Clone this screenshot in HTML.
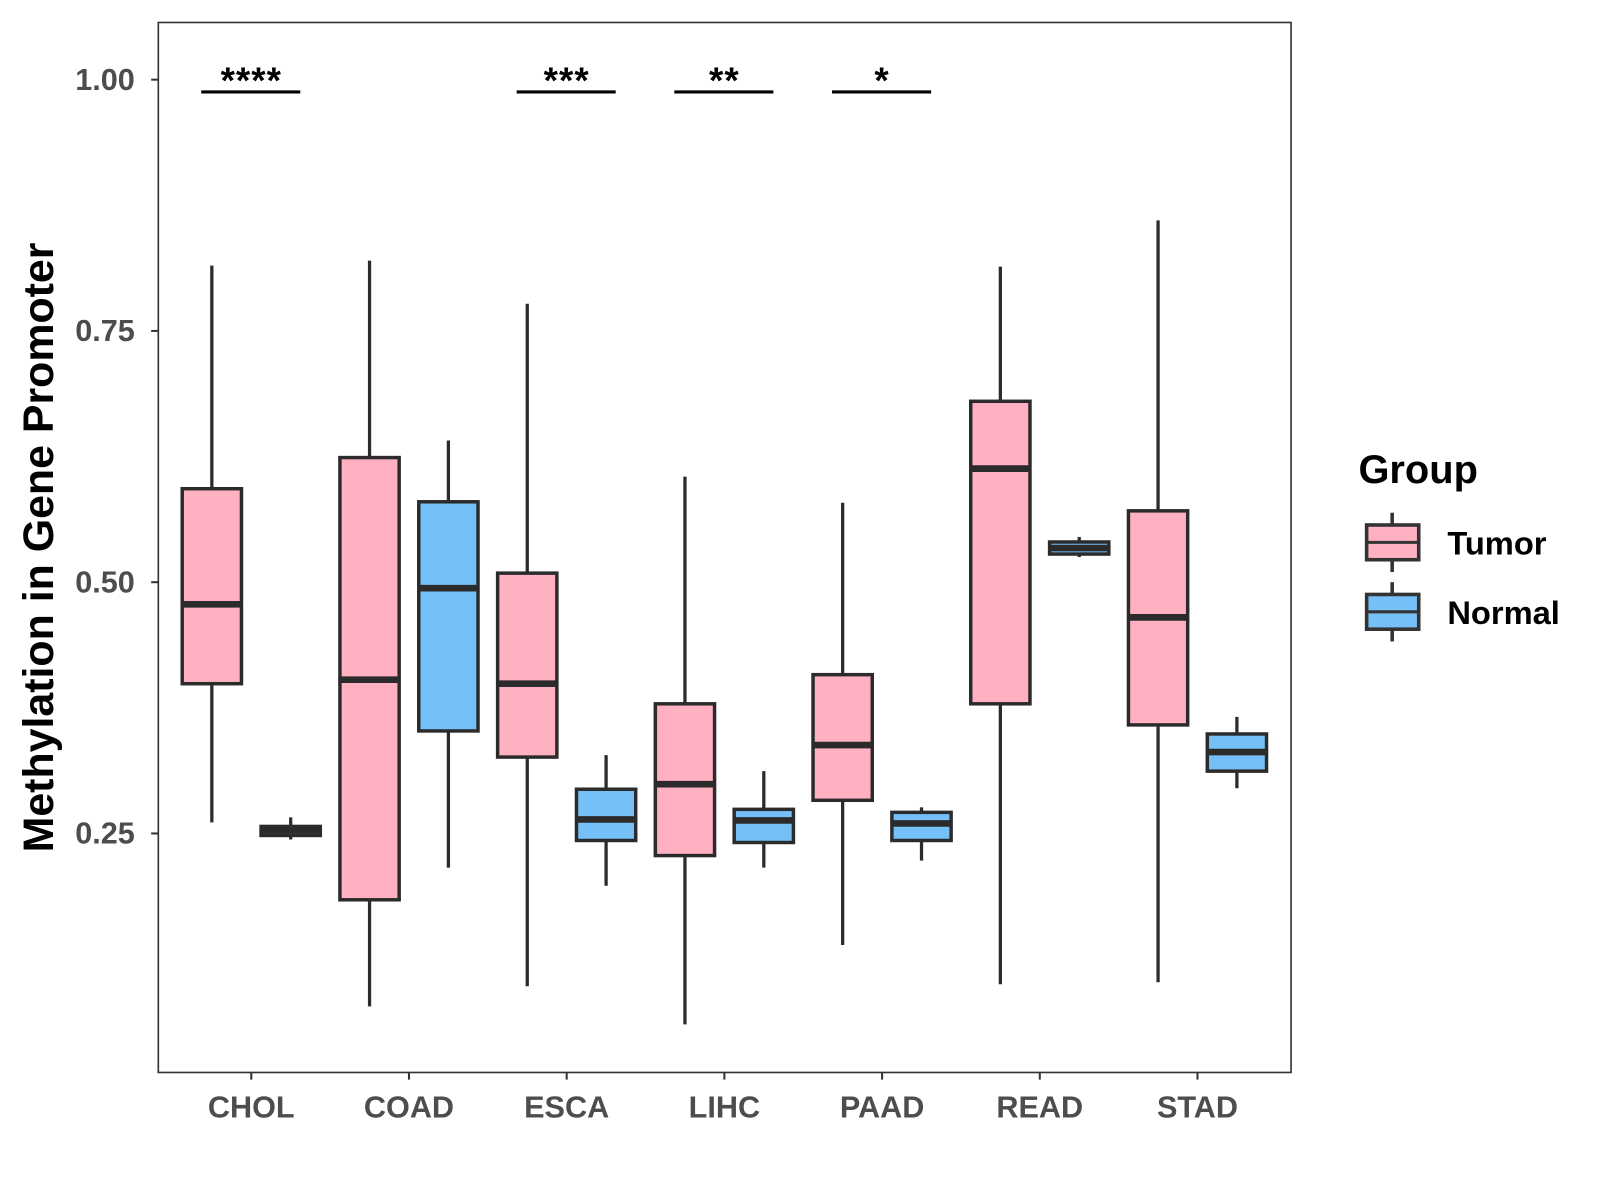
<!DOCTYPE html>
<html><head><meta charset="utf-8"><style>
html,body{margin:0;padding:0;background:#fff;}
svg{display:block;font-family:"Liberation Sans",Arial,sans-serif;}
</style></head><body>
<svg id="chart" width="1600" height="1200" viewBox="0 0 1600 1200">
<rect x="0" y="0" width="1600" height="1200" fill="#fff"/>
<g id="root" transform="scale(1.0214)">
<g id="plot"></g>
<rect x="155" y="22" width="1109" height="1028" fill="none" stroke="#333" stroke-width="1.6"/>
<text transform="translate(52,536) rotate(-90)" text-anchor="middle" font-size="42" font-weight="bold" fill="#000">Methylation in Gene Promoter</text>
<g>
<text x="1330" y="473" font-size="39" font-weight="bold" fill="#000">Group</text>
<g>
<line x1="1363" y1="502" x2="1363" y2="560" stroke="#333" stroke-width="3.5"/>
<rect x="1338" y="514" width="51" height="34" fill="#FFB0C1" stroke="#333" stroke-width="3.5"/>
<line x1="1338" y1="531" x2="1389" y2="531" stroke="#333" stroke-width="3"/>
<text x="1417" y="543" font-size="32" font-weight="bold" fill="#000">Tumor</text>
</g>
<g>
<line x1="1363" y1="570" x2="1363" y2="628" stroke="#333" stroke-width="3.5"/>
<rect x="1338" y="582" width="51" height="34" fill="#74C0F7" stroke="#333" stroke-width="3.5"/>
<line x1="1338" y1="599" x2="1389" y2="599" stroke="#333" stroke-width="3"/>
<text x="1417" y="611" font-size="32" font-weight="bold" fill="#000">Normal</text>
</g>
</g>
</g>
</svg>
<script>
const categories = ["CHOL","COAD","ESCA","LIHC","PAAD","READ","STAD"];
// [low, q1, median, q3, high]
const tumorStats = [
 [0.261,0.399,0.478,0.593,0.815],
 [0.078,0.184,0.403,0.624,0.820],
 [0.098,0.326,0.399,0.509,0.777],
 [0.060,0.228,0.299,0.379,0.605],
 [0.139,0.283,0.338,0.408,0.579],
 [0.100,0.379,0.613,0.680,0.814],
 [0.102,0.358,0.465,0.571,0.860]
];
const normalStats = [
 [0.244,0.248,0.253,0.257,0.266],
 [0.216,0.352,0.494,0.580,0.641],
 [0.198,0.243,0.264,0.294,0.328],
 [0.216,0.241,0.263,0.274,0.312],
 [0.223,0.243,0.260,0.271,0.276],
 [0.525,0.528,0.534,0.540,0.545],
 [0.295,0.312,0.331,0.349,0.366]
];
const significance = ["****","","***","**","*","",""];
const yTicks = [0.25,0.50,0.75,1.00];
const yTickLabels = ["0.25","0.50","0.75","1.00"];

const NS="http://www.w3.org/2000/svg";
const plot=document.getElementById('plot');
const root=document.getElementById('root');
function y(v){return 78+(1-v)*984;}
function x(i){return 246+i*154.4;}
const off=38.6, bw=58;
function mk(tag,attrs,parent){const e=document.createElementNS(NS,tag);for(const k in attrs)e.setAttribute(k,attrs[k]);(parent||plot).appendChild(e);return e;}

yTicks.forEach((t,i)=>{
  const l=mk('line',{x1:148,x2:155,y1:y(t),y2:y(t),stroke:'#333','stroke-width':2},root);
  
  
  const tx=mk('text',{x:132,y:y(t)+10,'text-anchor':'end','font-size':30,'font-weight':'bold',fill:'#4d4d4d'},root);
  tx.textContent=yTickLabels[i];
  
  
});
categories.forEach((c,i)=>{
  const l=mk('line',{x1:x(i),x2:x(i),y1:1050,y2:1057,stroke:'#333','stroke-width':2},root);
  
  
  const tx=mk('text',{x:x(i),y:1094,'text-anchor':'middle','font-size':30,'font-weight':'bold',fill:'#4d4d4d'},root);
  tx.textContent=c;
  
  
});
function box(cx,s,fill,name){
  const g=mk('g',{});
  
  
  mk('line',{x1:cx,x2:cx,y1:y(s[4]),y2:y(s[0]),stroke:'#2b2b2b','stroke-width':3.2},g);
  mk('rect',{x:cx-bw/2,y:y(s[3]),width:bw,height:Math.max(y(s[1])-y(s[3]),1),fill:fill,stroke:'#2b2b2b','stroke-width':3.4},g);
  mk('line',{x1:cx-bw/2,x2:cx+bw/2,y1:y(s[2]),y2:y(s[2]),stroke:'#2b2b2b','stroke-width':6.5},g);
}
categories.forEach((c,i)=>{
  box(x(i)-off,tumorStats[i],'#FFB0C1','box-tumor-'+c.toLowerCase());
  box(x(i)+off,normalStats[i],'#74C0F7','box-normal-'+c.toLowerCase());
  if(significance[i]){
    const l=mk('line',{x1:x(i)-49,x2:x(i)+48,y1:90,y2:90,stroke:'#000','stroke-width':3});
    
    
    const t=mk('text',{x:x(i),y:91,'text-anchor':'middle','font-size':36,'font-weight':'bold',fill:'#000','letter-spacing':'1'});
    t.textContent=significance[i];
    
    
  }
});
</script>
</body></html>
